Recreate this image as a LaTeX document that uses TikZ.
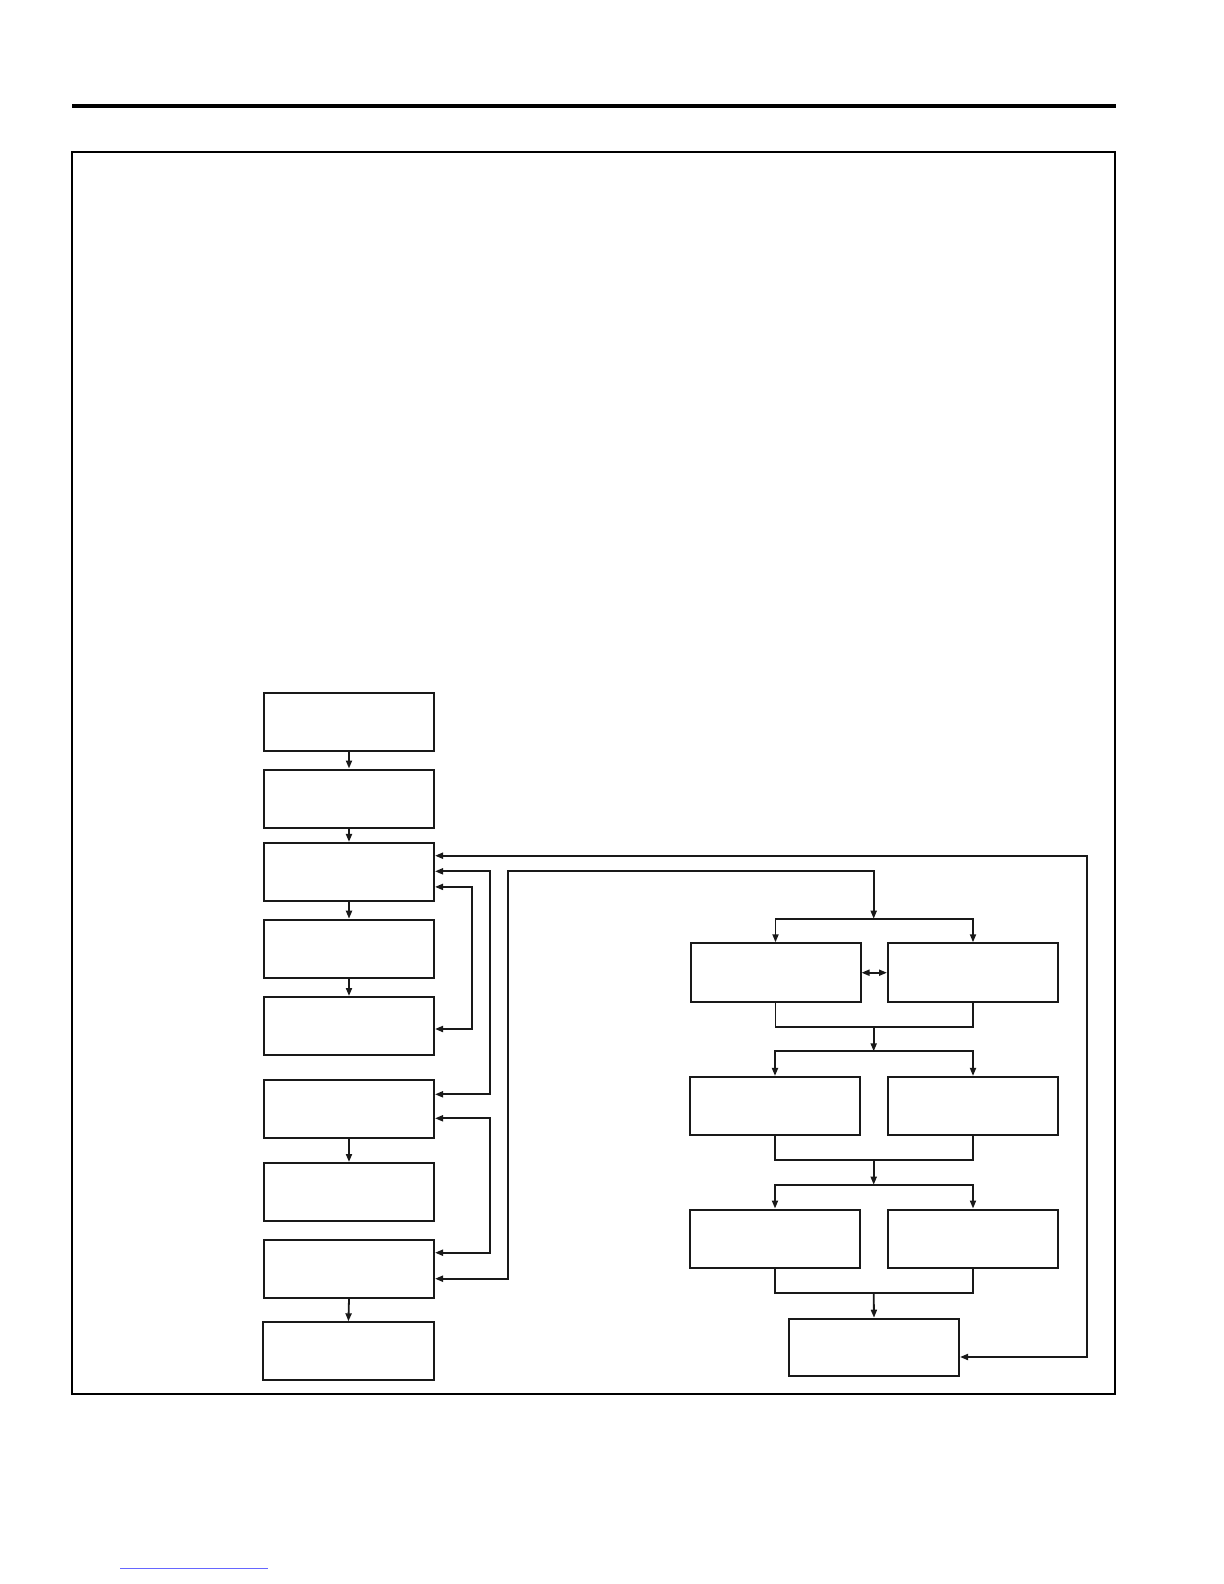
\documentclass[tikz,border=0pt]{standalone}
\usetikzlibrary{arrows.meta}
\begin{document}
\begin{tikzpicture}[x=0.5pt,y=-0.5pt,
  box/.style={draw=black!90,line width=1pt,minimum width=85pt,minimum height=29pt,inner sep=0pt,fill=white},
  conn/.style={draw=black!90,line width=0.9pt,arrows={-Triangle[length=4pt,width=3pt]}},
  conn2/.style={draw=black!90,line width=0.9pt,arrows={Triangle[length=4pt,width=3pt]-Triangle[length=4pt,width=3pt]}},
  plain/.style={draw=black!90,line width=0.9pt}]
\useasboundingbox (0,0) rectangle (1224,1584);
% page rule and frame
\draw[line width=2pt] (72,106) -- (1116,106);
\draw[line width=0.7pt] (72,152) rectangle (1115,1394);
\draw[line width=0.5pt,blue!60] (120,1568) -- (268,1568);
% left column
\node[box] (b1) at (349,721.7) {};
\node[box] (b2) at (349,798.5) {};
\node[box] (b3) at (349,871.9) {};
\node[box] (b4) at (349,948.7) {};
\node[box] (b5) at (349,1026) {};
\node[box] (b6) at (349,1108.9) {};
\node[box] (b7) at (349,1192) {};
\node[box] (b8) at (349,1268.9) {};
\node[box,minimum width=85.7pt] (b9) at (348.4,1351.3) {};
% right column
\node[box,minimum height=29.4pt] (r1) at (775.5,972.7) {};
\node[box,minimum height=29.4pt] (r2) at (973,972.7) {};
\node[box] (r3) at (775,1105.9) {};
\node[box] (r4) at (973,1105.9) {};
\node[box] (r5) at (775,1238.5) {};
\node[box] (r6) at (973,1238.5) {};
\node[box,minimum height=28.7pt] (r7) at (874,1347.4) {};
% vertical chain
\draw[conn] (b1.south) -- (b2.north);
\draw[conn] (b2.south) -- (b3.north);
\draw[conn] (b3.south) -- (b4.north);
\draw[conn] (b4.south) -- (b5.north);
\draw[conn] (b6.south) -- (b7.north);
\draw[conn] (b8.south) -- (b9.north);
% entry points
\coordinate (b3a) at ([yshift=8.1pt]b3.east);
\coordinate (b3b) at ([yshift=0.3pt]b3.east);
\coordinate (b3c) at ([yshift=-7.5pt]b3.east);
\coordinate (b5a) at ([yshift=-1.5pt]b5.east);
\coordinate (b6a) at ([yshift=7.3pt]b6.east);
\coordinate (b6b) at ([yshift=-4.7pt]b6.east);
\coordinate (b8a) at ([yshift=8.1pt]b8.east);
\coordinate (b8b) at ([yshift=-4.9pt]b8.east);
\coordinate (r7a) at ([yshift=-4.8pt]r7.east);
% vertical rails
\coordinate (xa) at (1086.7,0);
\coordinate (xb) at (489.7,0);
\coordinate (xc) at (472.3,0);
\coordinate (xd) at (508.3,0);
\coordinate (top) at (873.7,871.3);
% feedback loops
\draw[conn2] (b3a) -- (b3a -| xa) -- (r7a -| xa) -- (r7a);
\draw[conn2] (b3b) -- (b3b -| xb) -- (b6a -| xb) -- (b6a);
\draw[conn2] (b3c) -- (b3c -| xc) -- (b5a -| xc) -- (b5a);
\draw[conn2] (b6b) -- (b6b -| xb) -- (b8a -| xb) -- (b8a);
% right branch
\coordinate (br1) at (873.7,918.7);
\coordinate (m1) at (873.7,1027);
\coordinate (br2) at (873.7,1051.3);
\coordinate (m2) at (873.7,1160.3);
\coordinate (br3) at (873.7,1184.7);
\coordinate (m3) at (873.7,1293.3);
\draw[conn2] (b8b) -- (b8b -| xd) -- (top -| xd) -- (top) -- (br1);
\draw[conn] (br1) -| (r1.north);
\draw[conn] (br1) -| (r2.north);
\draw[conn2] (r1.east) -- (r2.west);
\draw[plain] (r1.south) |- (m1) -| (r2.south);
\draw[conn] (m1) -- (br2);
\draw[conn] (br2) -| (r3.north);
\draw[conn] (br2) -| (r4.north);
\draw[plain] (r3.south) |- (m2) -| (r4.south);
\draw[conn] (m2) -- (br3);
\draw[conn] (br3) -| (r5.north);
\draw[conn] (br3) -| (r6.north);
\draw[plain] (r5.south) |- (m3) -| (r6.south);
\draw[conn] (m3) -- (r7.north);
\end{tikzpicture}
\end{document}
